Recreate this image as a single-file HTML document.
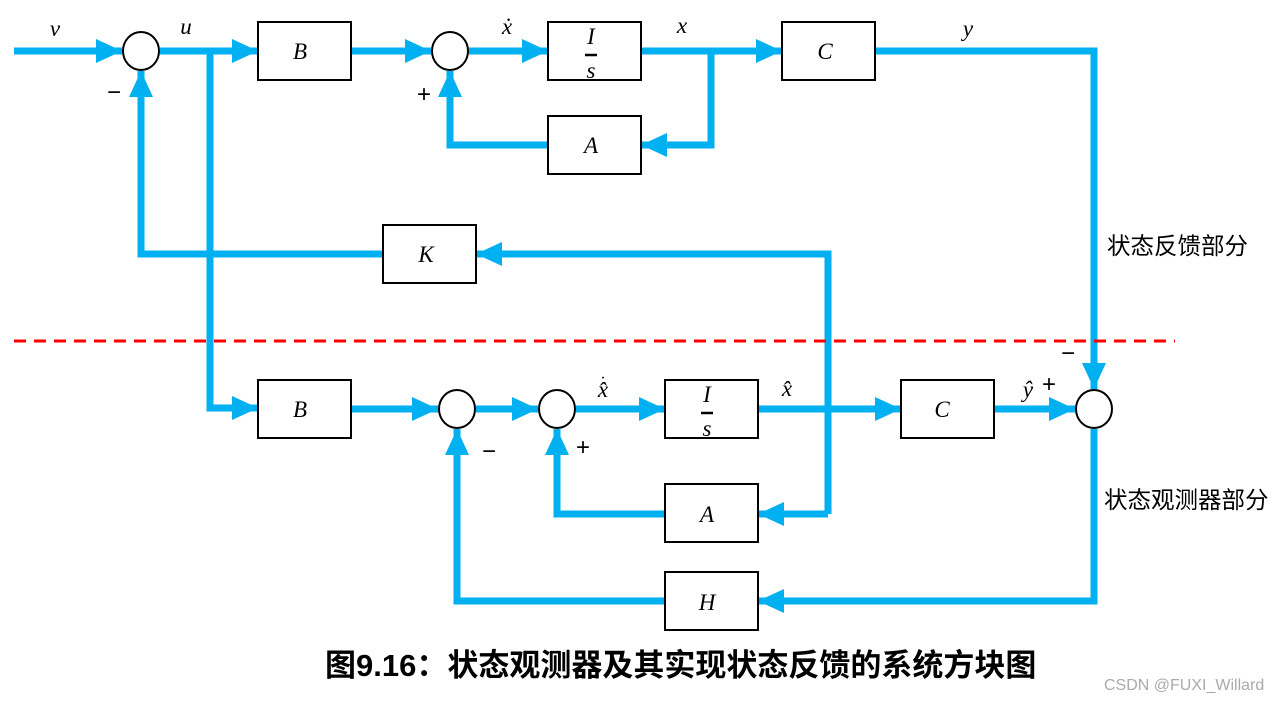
<!DOCTYPE html>
<html><head><meta charset="utf-8"><style>body{margin:0;background:#fff}svg{display:block}</style></head><body>
<svg width="1281" height="702" xmlns="http://www.w3.org/2000/svg">
<defs><marker id="a" markerUnits="userSpaceOnUse" markerWidth="26" markerHeight="24" refX="26" refY="12" orient="auto"><path d="M0,0 L26,12 L0,24 Z" fill="#00B0F0"/></marker></defs>
<g stroke="#00B0F0" stroke-width="7" fill="none">
<path d="M14,51 H122" marker-end="url(#a)"/>
<path d="M160,51 H258" marker-end="url(#a)"/>
<path d="M351,51 H431" marker-end="url(#a)"/>
<path d="M469,51 H548" marker-end="url(#a)"/>
<path d="M641,51 H782" marker-end="url(#a)"/>
<path d="M711,51 V145 H641" marker-end="url(#a)"/>
<path d="M548,145 H450 V71" marker-end="url(#a)"/>
<path d="M875,51 H1094 V389" marker-end="url(#a)"/>
<path d="M383,254 H141 V71" marker-end="url(#a)"/>
<path d="M210,51 V408 H258" marker-end="url(#a)"/>
<path d="M828,514 V254 H476" marker-end="url(#a)"/>
<path d="M828,514 H758" marker-end="url(#a)"/>
<path d="M351,409 H438" marker-end="url(#a)"/>
<path d="M476,409 H538" marker-end="url(#a)"/>
<path d="M576,409 H665" marker-end="url(#a)"/>
<path d="M758,409 H901" marker-end="url(#a)"/>
<path d="M994,409 H1075" marker-end="url(#a)"/>
<path d="M1094,429 V601 H758" marker-end="url(#a)"/>
<path d="M665,601 H457 V429" marker-end="url(#a)"/>
<path d="M665,514 H557 V429" marker-end="url(#a)"/>
</g>
<line x1="14" y1="341" x2="1175" y2="341" stroke="#FF0000" stroke-width="3" stroke-dasharray="12,8"/>
<g stroke="#000" stroke-width="2" fill="#fff">
<rect x="258" y="22" width="93" height="58"/><rect x="548" y="22" width="93" height="58"/><rect x="782" y="22" width="93" height="58"/>
<rect x="548" y="116" width="93" height="58"/><rect x="383" y="225" width="93" height="58"/>
<rect x="258" y="380" width="93" height="58"/><rect x="665" y="380" width="93" height="58"/><rect x="901" y="380" width="93" height="58"/>
<rect x="665" y="484" width="93" height="58"/><rect x="665" y="572" width="93" height="58"/>
<ellipse cx="141" cy="51" rx="18" ry="19"/><ellipse cx="450" cy="51" rx="18" ry="19"/>
<ellipse cx="457" cy="409" rx="18" ry="19"/><ellipse cx="557" cy="409" rx="18" ry="19"/><ellipse cx="1094" cy="409" rx="18" ry="19"/>
</g>
<g font-family="Liberation Serif, serif" font-style="italic" font-size="23" text-anchor="middle" fill="#000">
<text x="300" y="59">B</text><text x="591" y="44">I</text><text x="591" y="78">s</text><text x="825" y="59">C</text>
<text x="591" y="153">A</text><text x="426" y="262">K</text><text x="300" y="417">B</text>
<text x="707" y="402">I</text><text x="707" y="436">s</text><text x="942" y="417">C</text>
<text x="707" y="522">A</text><text x="707" y="610">H</text>
<text x="55" y="36">v</text><text x="186" y="34">u</text><text x="507" y="34">ẋ</text><text x="682" y="33">x</text><text x="968" y="36">y</text>
<text x="603" y="397">x̂</text><text x="603" y="383" font-style="normal" font-size="16">·</text><text x="787" y="396">x̂</text><text x="1028" y="397">ŷ</text>
</g>
<g stroke="#000" stroke-width="2.5"><line x1="585" y1="55" x2="597" y2="55"/><line x1="701" y1="413" x2="713" y2="413"/></g>
<g font-family="Liberation Sans, sans-serif" font-size="24" fill="#000" text-anchor="middle">
<text x="114" y="100">−</text><text x="424" y="102">+</text><text x="489" y="459">−</text><text x="583" y="455">+</text><text x="1049" y="392">+</text><text x="1068" y="361">−</text>
</g>
<g font-family="Liberation Sans, Noto Sans CJK SC, sans-serif" fill="#000">
<text x="1107" y="254" font-size="23.5">状态反馈部分</text>
<text x="1104" y="508" font-size="23.5">状态观测器部分</text>
<text x="325" y="676" font-size="31" font-weight="bold">图9.16：状态观测器及其实现状态反馈的系统方块图</text>
<text x="1104" y="690" font-size="16" fill="#aaa">CSDN @FUXI_Willard</text>
</g>
</svg>
</body></html>
